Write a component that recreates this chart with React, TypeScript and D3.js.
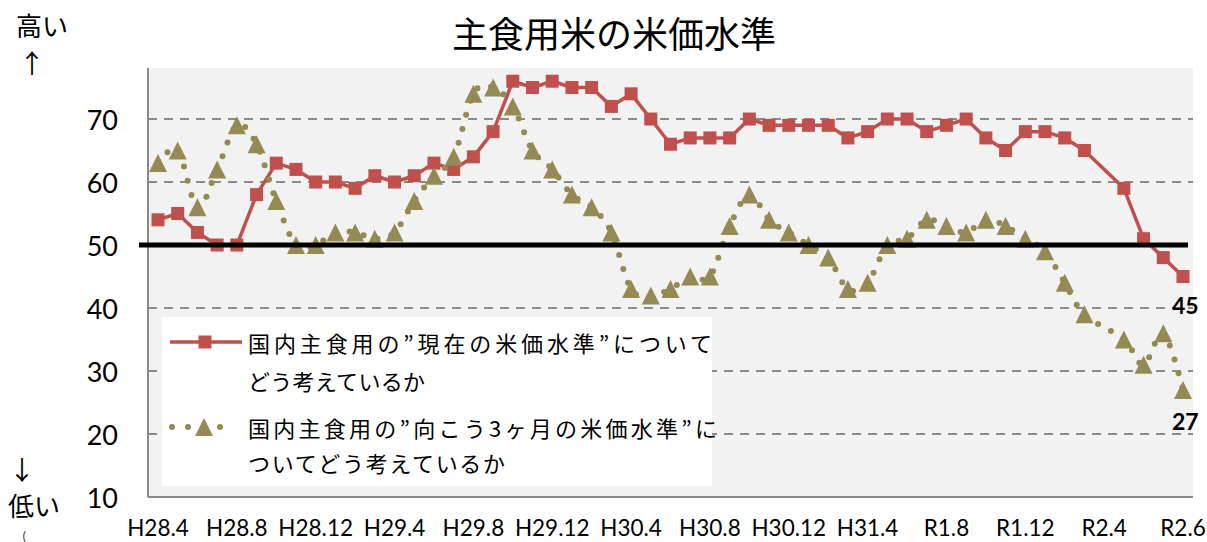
import * as d3 from 'd3';

// x軸 (4か月ごとの目盛ラベル)
const tickLabels = ['H28.4', 'H28.8', 'H28.12', 'H29.4', 'H29.8', 'H29.12', 'H30.4', 'H30.8', 'H30.12', 'H31.4', 'R1.8', 'R1.12', 'R2.4', 'R2.6'];
const categoryCount = 53;
const tickEvery = 4;

// 国内主食用の"現在の米価水準"についてどう考えているか
const currentLevel: (number | null)[] = [
  54, 55, 52, 50, 50, 58, 63, 62, 60, 60,
  59, 61, 60, 61, 63, 62, 64, 68, 76, 75,
  76, 75, 75, 72, 74, 70, 66, 67, 67, 67,
  70, 69, 69, 69, 69, 67, 68, 70, 70, 68,
  69, 70, 67, 65, 68, 68, 67, 65, null, 59,
  51, 48, 45,
];

// 国内主食用の"向こう3ヶ月の米価水準"についてどう考えているか
const outlook: (number | null)[] = [
  63, 65, 56, 62, 69, 66, 57, 50, 50, 52,
  52, 51, 52, 57, 61, 64, 74, 75, 72, 65,
  62, 58, 56, 52, 43, 42, 43, 45, 45, 53,
  58, 54, 52, 50, 48, 43, 44, 50, 51, 54,
  53, 52, 54, 53, 51, 49, 44, 39, null, 35,
  31, 36, 27,
];

const yTicks = [10, 20, 30, 40, 50, 60, 70];
const gridValues = [20, 30, 40, 60, 70];
const baseValue = 50;

const RED = '#C0504D';
const OLIVE = '#948A54';
const JP = '"Noto Sans CJK JP", sans-serif';
const NUM = 'Lato, "Open Sans", sans-serif';

const W = 1207;
const H = 542;
const plot = { left: 148, right: 1193, top: 68, bottom: 497 };

const x = d3.scalePoint<number>().domain(d3.range(categoryCount)).range([158, 1183]);
const y = d3.scaleLinear().domain([10, 78.1]).range([plot.bottom, plot.top]);

type Pt = { i: number; v: number };
const toPoints = (arr: (number | null)[]): Pt[] =>
  arr.map((v, i) => ({ i, v })).filter((d): d is Pt => d.v !== null);

const redPts = toPoints(currentLevel);
const olivePts = toPoints(outlook);

const redLine = d3.line<Pt>().x(d => x(d.i)!).y(d => y(d.v));
const oliveLine = d3.line<Pt>().x(d => x(d.i)!).y(d => y(d.v)).curve(d3.curveCatmullRom.alpha(0));

const tri = 'M0,-9L9,9L-9,9Z';

export default function App() {
  const last = categoryCount - 1;
  return (
    <div style={{ position: 'absolute', left: 0, top: 0 }}>
      <svg width={W} height={H} style={{ display: 'block', background: '#fff' }}>
        {/* plot area */}
        <rect x={plot.left} y={plot.top} width={plot.right - plot.left} height={plot.bottom - plot.top} fill="#F2F2F2" />
        {gridValues.map(v => (
          <line key={v} x1={plot.left} x2={plot.right} y1={y(v)} y2={y(v)} stroke="#8A8A8A" strokeWidth={2} strokeDasharray="9 7" />
        ))}
        <line x1={plot.left} x2={plot.left} y1={plot.top} y2={plot.bottom} stroke="#8A8A8A" strokeWidth={2} />
        <line x1={plot.left} x2={plot.right} y1={plot.bottom} y2={plot.bottom} stroke="#8A8A8A" strokeWidth={2} />
        {yTicks.map(v => (
          <g key={v}>
            <line x1={plot.left} x2={plot.left + 7} y1={y(v)} y2={y(v)} stroke="#8A8A8A" strokeWidth={1.5} />
            <text x={118} y={y(v)} textAnchor="end" dominantBaseline="central" fontFamily={NUM} fontSize={27} fill="#000">{v}</text>
          </g>
        ))}
        {tickLabels.map((t, k) => (
          <text key={t} x={x(k * tickEvery)} y={536} textAnchor="middle" fontFamily={NUM} fontSize={22.5} fill="#000">{t}</text>
        ))}

        {/* series */}
        <path d={redLine(redPts) || ''} fill="none" stroke={RED} strokeWidth={3.5} strokeLinejoin="round" />
        {redPts.map(d => (
          <rect key={d.i} x={x(d.i)! - 6.5} y={y(d.v) - 6.5} width={13} height={13} fill={RED} />
        ))}
        <path d={oliveLine(olivePts) || ''} fill="none" stroke={OLIVE} strokeWidth={6} strokeLinecap="round" strokeDasharray="0 14.5" />
        {olivePts.map(d => (
          <path key={d.i} d={tri} transform={`translate(${x(d.i)},${y(d.v)})`} fill={OLIVE} />
        ))}

        {/* 50 line */}
        <line x1={139} x2={1188} y1={y(baseValue)} y2={y(baseValue)} stroke="#000" strokeWidth={5} />

        {/* data labels */}
        <text x={x(last)! - 11} y={y(currentLevel[last]!) + 28} dominantBaseline="central" fontFamily={NUM} fontWeight="bold" fontSize={23}>{currentLevel[last]}</text>
        <text x={x(last)! - 11} y={y(outlook[last]!) + 31} dominantBaseline="central" fontFamily={NUM} fontWeight="bold" fontSize={23}>{outlook[last]}</text>

        {/* legend */}
        <rect x={162} y={317} width={550} height={169} fill="#fff" />
        <line x1={170} x2={242} y1={342} y2={342} stroke={RED} strokeWidth={3.5} />
        <rect x={198.5} y={335.5} width={13} height={13} fill={RED} />
        <line x1={172} x2={236} y1={427} y2={427} stroke={OLIVE} strokeWidth={6} strokeLinecap="round" strokeDasharray="0 16" />
        <path d={tri} transform="translate(204,427)" fill={OLIVE} />
        <g fontFamily={JP} fontSize={22} fill="#000">
          <text x={248} y={342} dominantBaseline="central" textLength={464} lengthAdjust="spacing">国内主食用の”現在の米価水準”について</text>
          <text x={248} y={380} dominantBaseline="central" textLength={177} lengthAdjust="spacing">どう考えているか</text>
          <text x={248} y={427} dominantBaseline="central" textLength={469} lengthAdjust="spacing">国内主食用の”向こう3ヶ月の米価水準”に</text>
          <text x={248} y={462} dominantBaseline="central" textLength={257} lengthAdjust="spacing">ついてどう考えているか</text>
        </g>

        {/* title and side notes */}
        <text x={614} y={32} textAnchor="middle" dominantBaseline="central" fontFamily={JP} fontSize={36} fill="#000">主食用米の米価水準</text>
        <text x={16} y={24} dominantBaseline="central" fontFamily={JP} fontSize={26} fill="#000">高い</text>
        <text x={32} y={61} textAnchor="middle" dominantBaseline="central" fontFamily={JP} fontSize={26} fill="#000">↑</text>
        <text x={22} y={468} textAnchor="middle" dominantBaseline="central" fontFamily={JP} fontSize={26} fill="#000">↓</text>
        <text x={8} y={504} dominantBaseline="central" fontFamily={JP} fontSize={26} fill="#000">低い</text>
        <text x={24} y={535} textAnchor="middle" dominantBaseline="central" fontFamily={JP} fontSize={11} fill="#000">(</text>
      </svg>
    </div>
  );
}
